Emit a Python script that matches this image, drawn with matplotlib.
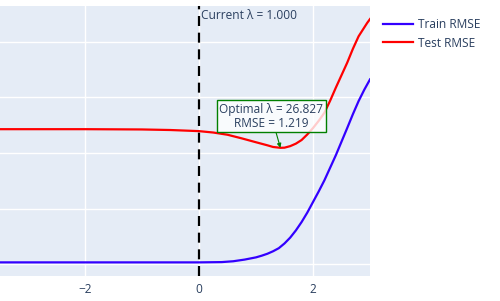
import numpy as np
import matplotlib
matplotlib.use("Agg")
from matplotlib import pyplot as plt

# log10(lambda) and RMSE values
train_x = [-3.49, -2.0, -1.0, 0.0, 0.4, 0.6, 0.8, 1.0, 1.1, 1.2, 1.3, 1.4, 1.5, 1.6, 1.7, 1.8, 1.9,
           2.0, 2.1, 2.2, 2.3, 2.4, 2.5, 2.6, 2.7, 2.8, 2.9, 3.0]
train_rmse = [0.807, 0.807, 0.807, 0.807, 0.808, 0.811, 0.817, 0.825, 0.831, 0.838, 0.847, 0.858,
              0.875, 0.896, 0.922, 0.952, 0.986, 1.024, 1.062, 1.102, 1.147, 1.192, 1.241,
              1.290, 1.340, 1.387, 1.428, 1.465]

test_x = [-3.49, -2.0, -1.0, -0.5, 0.0, 0.25, 0.5, 0.75, 1.0, 1.2, 1.3, 1.43, 1.5, 1.6, 1.7, 1.8,
          1.9, 2.0, 2.1, 2.2, 2.3, 2.4, 2.5, 2.6, 2.7, 2.8, 2.9, 2.95, 3.0]
test_rmse = [1.286, 1.286, 1.285, 1.283, 1.279, 1.274, 1.266, 1.253, 1.239, 1.228, 1.222, 1.219,
             1.2195, 1.225, 1.234, 1.247, 1.267, 1.290, 1.316, 1.345, 1.388, 1.435, 1.480,
             1.525, 1.575, 1.620, 1.652, 1.668, 1.682]

current_lambda = 1.000
optimal_lambda = 26.827
optimal_rmse = 1.219

x_ticks = [-2, 0, 2]
x_tick_labels = ["\u22122", "0", "2"]
y_grid = [0.8, 1.0, 1.2, 1.4, 1.6]

font = "Open Sans"
text_col = "#2a3f5f"

fig = plt.figure(figsize=(5, 3.01), dpi=100)
ax = fig.add_axes([0.0, 25 / 301, 370 / 500, 270 / 301])
ax.set_facecolor("#E5ECF6")
for s in ax.spines.values():
    s.set_visible(False)

ax.plot(train_x, train_rmse, color="#3300ff", lw=1.6, label="Train RMSE", zorder=3)
ax.plot(test_x, test_rmse, color="#ff0000", lw=1.6, label="Test RMSE", zorder=3)

ax.axvline(np.log10(current_lambda), color="black", lw=1.6, ls=(0, (4.5, 3)), zorder=4)
ax.text(np.log10(current_lambda) + 0.04, 1.718, "Current \u03bb = %.3f" % current_lambda,
        family=font, fontsize=8.6, color=text_col, va="top", ha="left", zorder=5)

ax.annotate("Optimal \u03bb = %.3f\nRMSE = %.3f" % (optimal_lambda, optimal_rmse),
            xy=(np.log10(optimal_lambda), optimal_rmse), xytext=(1.27, 1.333),
            ha="center", va="center", family=font, fontsize=8.6, color=text_col,
            linespacing=1.1,
            bbox=dict(boxstyle="square,pad=0.2", fc=(1, 1, 1, 0.8), ec="green", lw=1),
            arrowprops=dict(arrowstyle="-|>", color="green", lw=0.8, mutation_scale=6,
                            shrinkA=0, shrinkB=0),
            zorder=6)

ax.set_xlim(-3.49, 3.0)
ax.set_ylim(0.758, 1.729)
ax.set_xticks(x_ticks)
ax.set_xticklabels(x_tick_labels, family=font, fontsize=8.6, color=text_col)
ax.set_yticks(y_grid)
ax.set_yticklabels([])
ax.tick_params(length=0, pad=5)
ax.grid(True, color="white", lw=1, zorder=0)
ax.set_axisbelow(True)

leg = fig.legend(loc="upper left", bbox_to_anchor=(0.745, 0.975), frameon=False,
                 prop={"family": font, "size": 8.6}, handlelength=2.5, handletextpad=0.45,
                 labelspacing=0.45)
for t in leg.get_texts():
    t.set_color(text_col)

fig.savefig("out.png", dpi=100)
